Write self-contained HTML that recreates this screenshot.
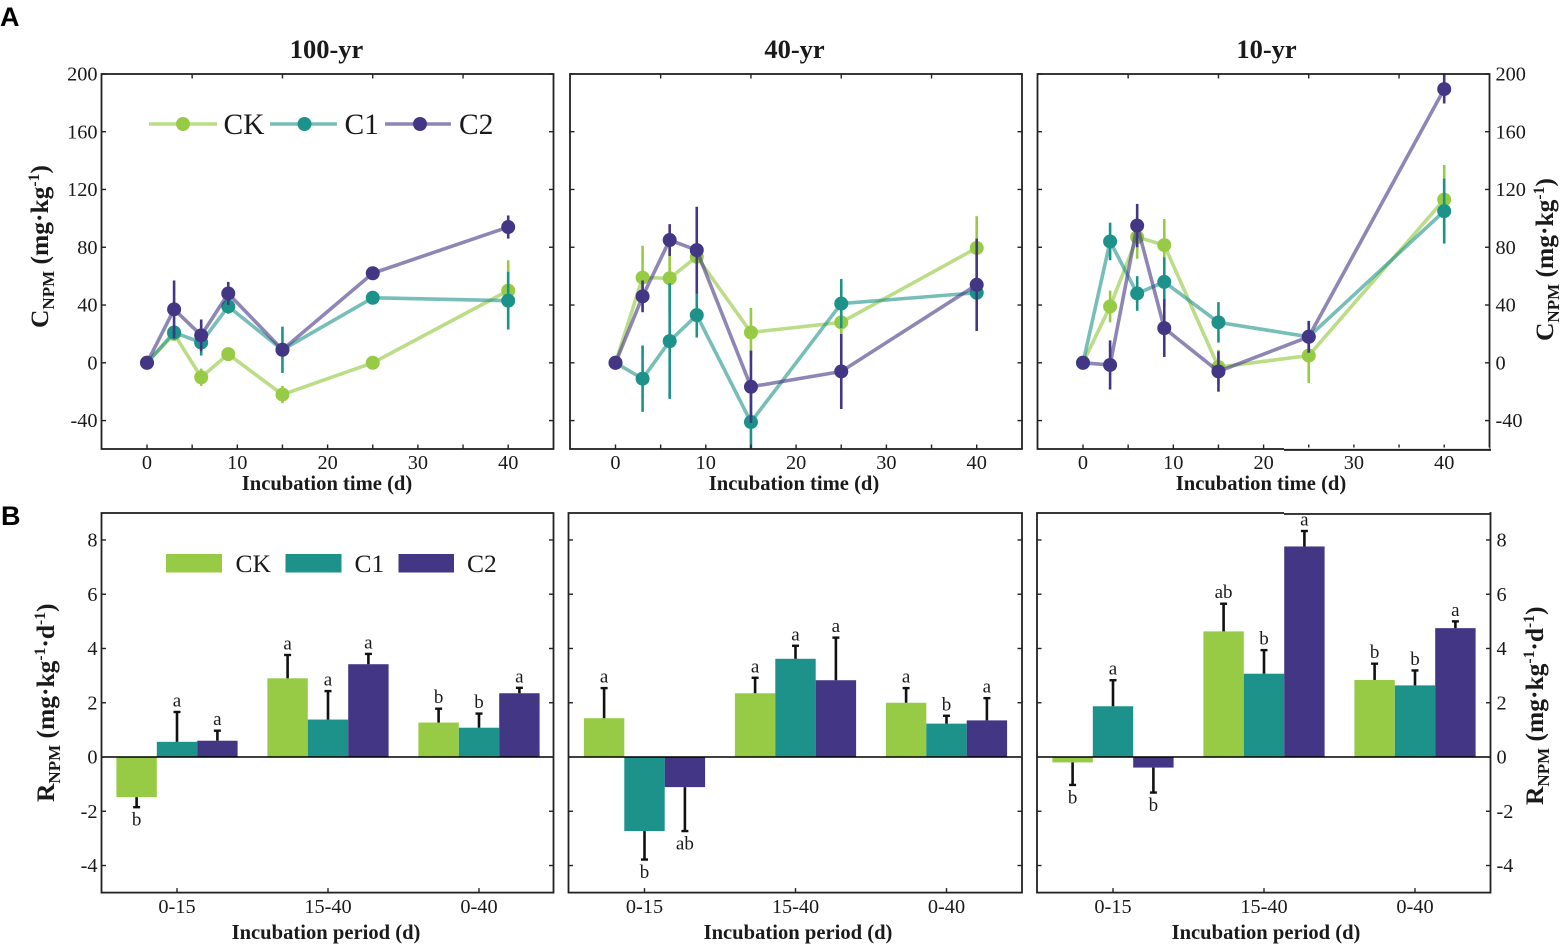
<!DOCTYPE html>
<html lang="en">
<head>
<meta charset="utf-8">
<title>NPM content and rate by incubation time</title>
<style>
html,body{margin:0;padding:0;background:#fff;width:1561px;height:946px;overflow:hidden}
svg{display:block;font-family:"Liberation Serif",serif;fill:#1a1a1a}
.tick{font-size:20.3px}
.axis{font-size:20.6px;font-weight:bold;text-anchor:middle}
.title{font-size:26.500px;font-weight:bold;text-anchor:middle}
.ylab{font-size:25.500px;font-weight:bold}
.sub{font-size:17px}
.sup{font-size:15.500px}
.leg-a{font-size:29.500px}
.leg-b{font-size:25.500px}
.sig{font-size:19px;text-anchor:middle}
.letter{font-family:"Liberation Sans",sans-serif;font-weight:bold;font-size:27px;fill:#000}
</style>
</head>
<body>
<svg id="figure" xmlns="http://www.w3.org/2000/svg" width="1561" height="946" viewBox="0 0 1561 946">
  <defs>
    <clipPath id="clip-a1"><rect x="101" y="74" width="453" height="375"/></clipPath>
    <clipPath id="clip-a2"><rect x="570" y="74" width="452" height="375"/></clipPath>
    <clipPath id="clip-a3"><rect x="1037" y="74" width="453" height="375"/></clipPath>
  </defs>

  <text class="letter" x="0" y="26">A</text>
  <text class="letter" x="1" y="525">B</text>

  <text class="title" x="326.500" y="58">100-yr</text>
  <text class="title" x="794.500" y="58">40-yr</text>
  <text class="title" x="1266.500" y="58">10-yr</text>

  <text class="axis" x="327" y="490">Incubation time (d)</text>
  <text class="axis" x="794" y="490">Incubation time (d)</text>
  <text class="axis" x="1261" y="490">Incubation time (d)</text>
  <text class="axis" x="326" y="939">Incubation period (d)</text>
  <text class="axis" x="798" y="939">Incubation period (d)</text>
  <text class="axis" x="1266" y="939">Incubation period (d)</text>

  <text class="ylab" transform="translate(48,328) rotate(-90)">C<tspan class="sub" dy="6">NPM</tspan><tspan dy="-6"> (mg·kg</tspan><tspan class="sup" dy="-9">-1</tspan><tspan dy="9">)</tspan></text>
  <text class="ylab" transform="translate(1553,341) rotate(-90)">C<tspan class="sub" dy="6">NPM</tspan><tspan dy="-6"> (mg·kg</tspan><tspan class="sup" dy="-9">-1</tspan><tspan dy="9">)</tspan></text>
  <text class="ylab" transform="translate(54,802) rotate(-90)">R<tspan class="sub" dy="6">NPM</tspan><tspan dy="-6"> (mg·kg</tspan><tspan class="sup" dy="-9">-1</tspan><tspan dy="9">·d</tspan><tspan class="sup" dy="-9">-1</tspan><tspan dy="9">)</tspan></text>
  <text class="ylab" transform="translate(1543,805) rotate(-90)">R<tspan class="sub" dy="6">NPM</tspan><tspan dy="-6"> (mg·kg</tspan><tspan class="sup" dy="-9">-1</tspan><tspan dy="9">·d</tspan><tspan class="sup" dy="-9">-1</tspan><tspan dy="9">)</tspan></text>

  <g id="plots"></g>

  <g>
    <line x1="1284" x2="1489.5" y1="448.200" y2="448.200" stroke="#fff" stroke-width="1.4"/>
    <line x1="1284" x2="1491" y1="450" y2="450" stroke="#222" stroke-width="1.8"/>
    <line x1="1284" x2="1489.5" y1="512.600" y2="512.600" stroke="#fff" stroke-width="1.6"/>
    <line x1="1284" x2="1491" y1="514" y2="514" stroke="#222" stroke-width="1.8"/>
  </g>

  <g>
    <g>
      <line x1="149" x2="217" y1="124" y2="124" stroke="#97CB46" stroke-opacity=".65" stroke-width="3.6"/>
      <circle cx="183" cy="124" r="7" fill="#97CB46"/>
      <text class="leg-a" x="223.500" y="134">CK</text>
    </g>
    <g>
      <line x1="270" x2="337" y1="124" y2="124" stroke="#1C928B" stroke-opacity=".6" stroke-width="3.6"/>
      <circle cx="304.500" cy="124" r="7" fill="#1C928B"/>
      <text class="leg-a" x="344.500" y="134">C1</text>
    </g>
    <g>
      <line x1="385" x2="451" y1="124" y2="124" stroke="#433785" stroke-opacity=".6" stroke-width="3.6"/>
      <circle cx="420" cy="124" r="7" fill="#433785"/>
      <text class="leg-a" x="459" y="134">C2</text>
    </g>
  </g>
  <g>
    <g>
      <rect x="166" y="554" width="56" height="18.500" fill="#97CB46"/>
      <text class="leg-b" x="235.500" y="572">CK</text>
    </g>
    <g>
      <rect x="285.500" y="554" width="56" height="18.500" fill="#1C928B"/>
      <text class="leg-b" x="354.500" y="572">C1</text>
    </g>
    <g>
      <rect x="398.500" y="554" width="55.500" height="18.500" fill="#433785"/>
      <text class="leg-b" x="467" y="572">C2</text>
    </g>
  </g>
</svg>

<script>
// ---- line chart data ----
const days = [0, 3, 6, 9, 15, 25, 40];
const cTickLabels = [-40, 0, 40, 80, 120, 160, 200];
const dayTickLabels = [0, 10, 20, 30, 40];
const dayMinorTicks = [5, 15, 25, 35];

const ck100 = [0, 20, -10, 6, -22, 0, 50];
const c1100 = [0, 21, 14, 39, 9, 45, 43];
const c2100 = [0, 37, 19, 48, 9, 62, 94];
const ck100Err = [0, 3, 6, 3, 6, 3, 21];
const c1100Err = [0, 5, 9, 5, 16, 3, 20];
const c2100Err = [0, 20, 11, 8, 4, 2, 8];

const ck40 = [0, 59, 58.5, 73.5, 21, 28, 79.5];
const c140 = [0, -11, 15, 33, -41, 41, 48.5];
const c240 = [0, 46, 85, 78, -16.6, -6, 54];
const ck40Err = [0, 22, 25, 4, 17, 8, 22];
const c140Err = [0, 23, 40, 15.5, 20, 17, 5];
const c240Err = [0, 11, 11, 30, 25, 26, 32];

const ck10 = [0, 39, 87, 81.5, -3, 5, 113];
const c110 = [0, 84, 48, 56, 28, 18, 105];
const c210 = [0, -1.5, 95, 24, -6, 18, 189.5];
const ck10Err = [0, 11, 15, 18, 12, 19, 24];
const c110Err = [0, 13, 12, 17, 14, 11, 22.5];
const c210Err = [0, 17, 15, 20, 14, 11, 10];

// ---- bar chart data ----
const periods = ['0-15', '15-40', '0-40'];
const rTickLabels = [-4, -2, 0, 2, 4, 6, 8];

const ckRate100 = [-1.48, 2.9, 1.27];
const c1Rate100 = [0.56, 1.38, 1.08];
const c2Rate100 = [0.6, 3.42, 2.35];
const ckRate100Err = [0.37, 0.86, 0.51];
const c1Rate100Err = [1.1, 1.05, 0.52];
const c2Rate100Err = [0.37, 0.38, 0.2];
const ckSig100 = ['b', 'a', 'b'];
const c1Sig100 = ['a', 'a', 'b'];
const c2Sig100 = ['a', 'a', 'a'];

const ckRate40 = [1.43, 2.35, 2.0];
const c1Rate40 = [-2.73, 3.62, 1.23];
const c2Rate40 = [-1.11, 2.83, 1.35];
const ckRate40Err = [1.11, 0.57, 0.54];
const c1Rate40Err = [1.05, 0.48, 0.29];
const c2Rate40Err = [1.62, 1.57, 0.82];
const ckSig40 = ['a', 'a', 'a'];
const c1Sig40 = ['b', 'a', 'b'];
const c2Sig40 = ['ab', 'a', 'a'];

const ckRate10 = [-0.2, 4.63, 2.84];
const c1Rate10 = [1.87, 3.07, 2.64];
const c2Rate10 = [-0.39, 7.76, 4.75];
const ckRate10Err = [0.83, 1.02, 0.6];
const c1Rate10Err = [0.96, 0.87, 0.55];
const c2Rate10Err = [0.92, 0.57, 0.25];
const ckSig10 = ['b', 'ab', 'b'];
const c1Sig10 = ['a', 'b', 'b'];
const c2Sig10 = ['b', 'a', 'a'];

const seriesNames = ['ck', 'c1', 'c2'];
const seriesColors = ['#97CB46', '#1C928B', '#433785'];

const NS = 'http://www.w3.org/2000/svg';
const plots = document.getElementById('plots');

function make(parent, tag, attrs, txt) {
  const el = document.createElementNS(NS, tag);
  for (const k in attrs) el.setAttribute(k, attrs[k]);
  if (txt !== undefined) el.textContent = txt;
  parent.appendChild(el);
  return el;
}

function group(parent, name) {
  const g = make(parent, 'g', {});
  
  
  return g;
}

// Panel A axis functions
const cY = v => 362.8 - v * 1.4445;
function dayX(left) { return d => left + 45.5 + d * 9.03; }

// Panel B axis function
const rY = v => 757 - v * 27.13;

function frame(g, left, right, top, bottom) {
  const rect = make(g, 'rect', {x: left, y: top, width: right - left, height: bottom - top, fill: 'none', stroke: '#222', 'stroke-width': 1.8});
  
  
}

function yTicks(g, vals, yFn, left, right, side) {
  vals.forEach(v => {
    const y = yFn(v);
    const t1 = make(g, 'line', {x1: left, x2: left + 4.5, y1: y, y2: y, stroke: '#222', 'stroke-width': 1.4});
    
    
    const t2 = make(g, 'line', {x1: right - 4.5, x2: right, y1: y, y2: y, stroke: '#222', 'stroke-width': 1.4});
    
    
    if (side === 'left') {
      const lab = make(g, 'text', {class: 'tick', x: left - 4, y: y + 6.6, 'text-anchor': 'end'}, v);
      
      
    }
    if (side === 'right') {
      const lab = make(g, 'text', {class: 'tick', x: right + 6, y: y + 6.6}, v);
      
      
    }
  });
}

function linePanel(cfg) {
  const g = group(plots, 'line-panel-' + cfg.name);
  const x = dayX(cfg.left);
  const top = 74, bottom = 449, right = cfg.left + 452;
  const clipId = cfg.clip;
  cfg.series.forEach((vals, s) => {
    const sg = group(g, 'series-' + seriesNames[s] + '-' + cfg.name);
    sg.setAttribute('clip-path', 'url(#' + clipId + ')');
    const errs = cfg.errs[s];
    days.forEach((d, i) => {
      if (!errs[i]) return;
      const e = make(sg, 'line', {x1: x(d), x2: x(d), y1: cY(vals[i] + errs[i]), y2: cY(vals[i] - errs[i]), stroke: seriesColors[s], 'stroke-width': 2.6});
      
      
    });
    const pts = days.map((d, i) => x(d) + ',' + cY(vals[i])).join(' ');
    const line = make(sg, 'polyline', {points: pts, fill: 'none', stroke: seriesColors[s], 'stroke-opacity': s === 0 ? 0.65 : 0.6, 'stroke-width': 3.6, 'stroke-linejoin': 'round'});
    
    
    days.forEach((d, i) => {
      const p = make(sg, 'circle', {cx: x(d), cy: cY(vals[i]), r: 7, fill: seriesColors[s]});
      
      
    });
  });
  frame(g, cfg.left, right, top, bottom);
  yTicks(g, cTickLabels, cY, cfg.left, right, cfg.side);
  dayTickLabels.forEach(d => {
    const t = make(g, 'line', {x1: x(d), x2: x(d), y1: bottom - 4.5, y2: bottom, stroke: '#222', 'stroke-width': 1.4});
    
    
    const lab = make(g, 'text', {class: 'tick', x: x(d), y: 469, 'text-anchor': 'middle'}, d);
    
    
  });
  dayMinorTicks.forEach(d => {
    const t1 = make(g, 'line', {x1: x(d), x2: x(d), y1: bottom - 4.5, y2: bottom, stroke: '#222', 'stroke-width': 1.4});
    
    
    const t2 = make(g, 'line', {x1: x(d), x2: x(d), y1: top, y2: top + 4.5, stroke: '#222', 'stroke-width': 1.4});
    
    
  });
}

function barPanel(cfg) {
  const g = group(plots, 'bar-panel-' + cfg.name);
  const top = 513, bottom = 892.6;
  const barW = 40.4, step = 151;
  const catX = i => cfg.first + i * step;
  cfg.series.forEach((vals, s) => {
    const sg = group(g, 'bars-' + seriesNames[s] + '-' + cfg.name);
    const errs = cfg.errs[s];
    const sigs = cfg.sigs[s];
    vals.forEach((v, i) => {
      const cx = catX(i) + (s - 1) * barW;
      const bar = make(sg, 'rect', {x: cx - barW / 2, y: Math.min(rY(v), rY(0)), width: barW, height: Math.abs(rY(v) - rY(0)), fill: seriesColors[s]});
      
      
      const dir = v < 0 ? -1 : 1;
      const tip = v + dir * errs[i];
      const stem = make(sg, 'line', {x1: cx, x2: cx, y1: rY(v), y2: rY(tip), stroke: '#111', 'stroke-width': 2.6});
      
      
      const cap = make(sg, 'line', {x1: cx - 3.5, x2: cx + 3.5, y1: rY(tip), y2: rY(tip), stroke: '#111', 'stroke-width': 2.4});
      
      
      const lab = make(sg, 'text', {class: 'sig', x: cx, y: dir > 0 ? rY(tip) - 5.5 : rY(tip) + 18.5}, sigs[i]);
      
      
    });
  });
  const zero = make(g, 'line', {x1: cfg.left, x2: cfg.right, y1: rY(0), y2: rY(0), stroke: '#000', 'stroke-width': 1.6});
  
  
  frame(g, cfg.left, cfg.right, top, bottom);
  yTicks(g, rTickLabels, rY, cfg.left, cfg.right, cfg.side);
  periods.forEach((p, i) => {
    const t = make(g, 'line', {x1: catX(i), x2: catX(i), y1: bottom - 4.5, y2: bottom, stroke: '#222', 'stroke-width': 1.4});
    
    
    const lab = make(g, 'text', {class: 'tick', x: catX(i), y: 913, 'text-anchor': 'middle'}, p);
    
    
  });
}

linePanel({name: '100-yr', left: 101.5, clip: 'clip-a1', side: 'left', series: [ck100, c1100, c2100], errs: [ck100Err, c1100Err, c2100Err]});
linePanel({name: '40-yr', left: 570, clip: 'clip-a2', side: 'none', series: [ck40, c140, c240], errs: [ck40Err, c140Err, c240Err]});
linePanel({name: '10-yr', left: 1037.5, clip: 'clip-a3', side: 'right', series: [ck10, c110, c210], errs: [ck10Err, c110Err, c210Err]});

barPanel({name: '100-yr', left: 101.5, right: 553.5, first: 177, side: 'left', series: [ckRate100, c1Rate100, c2Rate100], errs: [ckRate100Err, c1Rate100Err, c2Rate100Err], sigs: [ckSig100, c1Sig100, c2Sig100]});
barPanel({name: '40-yr', left: 568.5, right: 1022, first: 644.5, side: 'none', series: [ckRate40, c1Rate40, c2Rate40], errs: [ckRate40Err, c1Rate40Err, c2Rate40Err], sigs: [ckSig40, c1Sig40, c2Sig40]});
barPanel({name: '10-yr', left: 1037, right: 1490.5, first: 1113, side: 'right', series: [ckRate10, c1Rate10, c2Rate10], errs: [ckRate10Err, c1Rate10Err, c2Rate10Err], sigs: [ckSig10, c1Sig10, c2Sig10]});
</script>
</body>
</html>
